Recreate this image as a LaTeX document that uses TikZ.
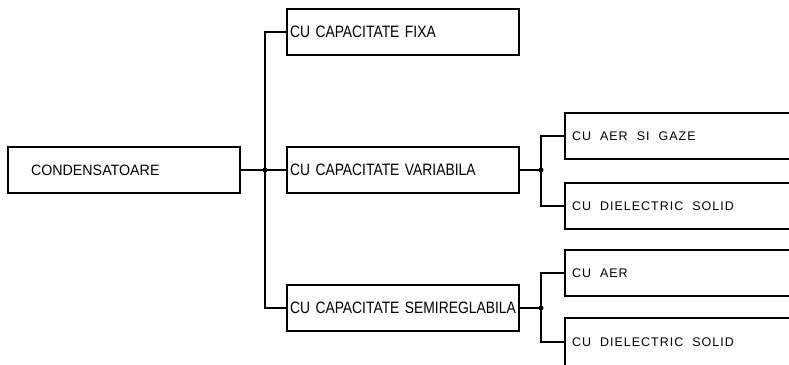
\documentclass[tikz,border=0pt]{standalone}
\usepackage{fontspec}
\setmainfont{Liberation Sans}
\newfontfamily\mfont[FakeStretch=0.84,WordSpace=1.6]{Liberation Sans}
\newfontfamily\cfont[FakeStretch=0.95]{Liberation Sans}
\newfontfamily\rfont[LetterSpace=8]{Liberation Sans}
\newcommand{\wsp}{\hspace{9pt}}
\begin{document}
\begin{tikzpicture}[x=1pt,y=-1pt,
  box/.style={draw, line width=2.6pt, outer sep=0pt, anchor=north west, inner ysep=0pt, align=left},
  mbox/.style={box, inner xsep=3pt, text width=226pt, minimum height=46pt, font=\mfont\fontsize{16.5}{19}\selectfont},
  rbox/.style={box, inner xsep=7pt, text width=226pt, minimum height=46pt, font=\rfont\fontsize{12.5}{15}\selectfont},
  conn/.style={line width=1.4pt},
  jdot/.style={circle, fill, inner sep=0pt, minimum size=5pt}]
\clip (0,0) rectangle (789,364);
\fill[white] (0,0) rectangle (789,364);
% boxes
\node[box, inner xsep=23pt, text width=186pt, minimum height=46pt, font=\cfont\fontsize{15}{18}\selectfont] (cond) at (8,147) {CONDENSATOARE};
\node[mbox] (fixa) at (287,9) {CU CAPACITATE FIXA};
\node[mbox] (var) at (287,147) {CU CAPACITATE VARIABILA};
\node[mbox] (semi) at (287,285) {CU CAPACITATE SEMIREGLABILA};
\node[rbox] (gaze) at (565,113) {CU\wsp AER\wsp SI\wsp GAZE};
\node[rbox] (diel1) at (565,183) {CU\wsp DIELECTRIC\wsp SOLID};
\node[rbox] (aer) at (565,250) {CU\wsp AER};
\node[rbox, minimum height=48pt] (diel2) at (565,318) {CU\wsp DIELECTRIC\wsp SOLID};
% junctions
\coordinate (j1) at (265,170);
\coordinate (j2) at (541,170);
\coordinate (j3) at (541,308);
% connectors
\draw[conn] (cond.east) -- (var.west);
\draw[conn] (fixa.west) -| (j1) |- (semi.west);
\draw[conn] (var.east) -- (j2);
\draw[conn] (gaze.west) -| (j2) |- (diel1.west);
\draw[conn] (semi.east) -- (j3);
\draw[conn] (aer.west) -| (j3) |- (diel2.west);
\node[jdot] (d1) at (j1) {};
\node[jdot] (d2) at (j2) {};
\node[jdot] (d3) at (j3) {};
\end{tikzpicture}
\end{document}
